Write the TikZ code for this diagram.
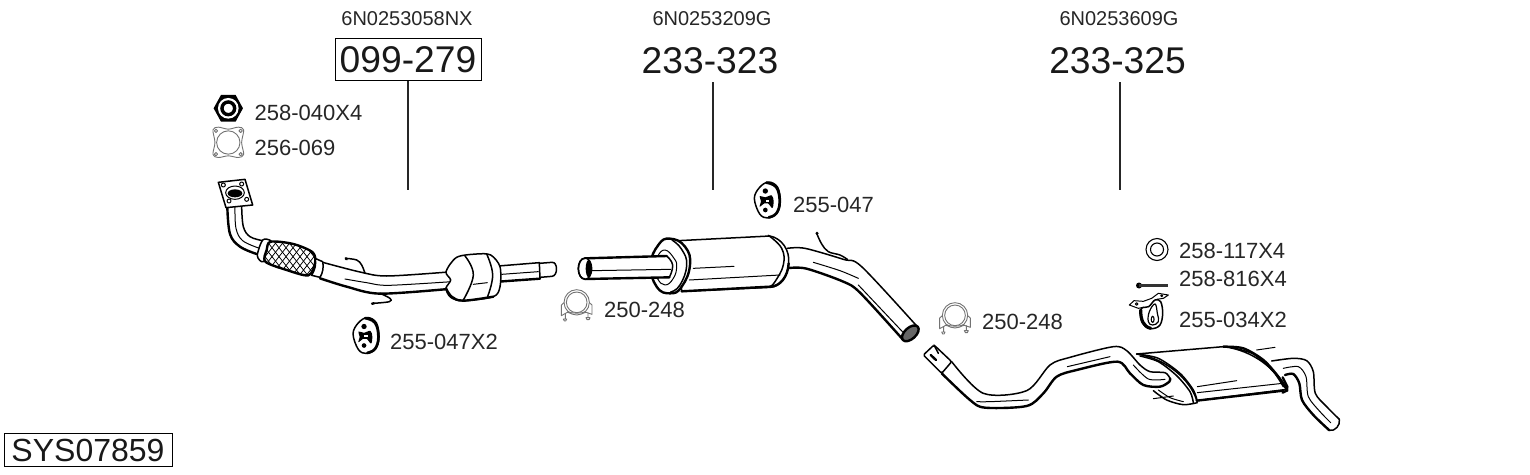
\documentclass[tikz,border=0pt]{standalone}
\usepackage{fontspec}
\setmainfont{Liberation Sans}
\tikzset{
  lbl/.style={anchor=west,inner sep=0pt,font=\fontsize{22}{24}\selectfont,text=black!85},
  oem/.style={inner sep=0pt,font=\fontsize{20}{22}\selectfont,text=black!85},
  big/.style={inner sep=0pt,font=\fontsize{37.2}{40}\selectfont,text=black!90},
  ldr/.style={draw=black!85,line width=1.2pt},
  e/.style={draw=black,line width=1.5pt,line cap=round,line join=round},
  h/.style={draw=black,line width=2.4pt,line cap=round,line join=round},
  t/.style={draw=black,line width=1pt,line cap=round,line join=round},
  g/.style={draw=black!55,line width=0.9pt,line join=round},
  zoomunits/.style={x=0.33333pt,y=-0.33333pt},
  hanger/.pic={\begin{scope}[zoomunits]
    \draw[e,fill=white] plot[smooth cycle,tension=.6] coordinates {(-38,-5) (-22,-38) (5,-54) (32,-38) (40,5) (30,40) (3,54) (-22,42)};
    \draw[line width=2.6pt,line cap=round] plot[smooth,tension=.7] coordinates {(-2,-52) (28,-38) (38,5) (28,40) (5,52)};
    \fill (-5,-27) circle (8);
    \fill (-5,30) circle (7);
    \fill plot[smooth cycle,tension=.6] coordinates {(-22,-12) (-5,-8) (14,-14) (20,4) (16,24) (3,10) (-8,10) (-22,20) (-18,4)};
    \fill[white] (-4,-1) rectangle (6,5);
  \end{scope}},
  clamp/.pic={\begin{scope}[zoomunits]
    \draw[g,fill=white] (-46,0) -- (-30,-14) -- (30,-14) -- (46,0) -- (46,28) -- (28,22) .. controls (15,28) and (-15,28) .. (-28,22) -- (-46,32) -- cycle;
    \draw[g] (-34,24) -- (-34,42) (-40,42) -- (-30,42) -- (-33,48) -- (-37,48) -- cycle;
    \draw[g] (34,22) -- (34,38) (28,38) -- (40,38) -- (37,44) -- (31,44) -- cycle;
    \draw[g,fill=white] (0,-8) circle (38);
    \draw[g] (0,-8) circle (31);
    \draw[g] (-27,20) .. controls (-15,26) and (15,26) .. (27,20);
  \end{scope}},
}
\begin{document}
\begin{tikzpicture}[x=1pt,y=-1pt]
\useasboundingbox (0,0) rectangle (1530,474);

% titles
\node[oem] (o1) at (407,19) {6N0253058NX};
\node[oem] (o2) at (712,19) {6N0253209G};
\node[oem] (o3) at (1119,19) {6N0253609G};
\node[big,draw=black,line width=1pt,minimum width=146pt,minimum height=42pt] (n1) at (408,59.5) {099-279};
\node[big] (n2) at (710,61) {233-323};
\node[big] (n3) at (1117.5,61) {233-325};
\node[draw=black,line width=1pt,inner sep=0pt,minimum width=168pt,minimum height=33pt,font=\fontsize{32}{34}\selectfont,text=black!90] (sys) at (88,450) {SYS07859};

\coordinate (a2) at (713,82); \coordinate (a3) at (1120,82);
\coordinate (b1) at (408,190); \coordinate (b2) at (713,190); \coordinate (b3) at (1120,190);
\draw[ldr] (n1.south) -- (b1);
\draw[ldr] (a2) -- (b2);
\draw[ldr] (a3) -- (b3);

% labels
\node[lbl] (l1) at (254.5,113) {258-040X4};
\node[lbl] (l2) at (254.5,148) {256-069};
\node[lbl] (l3) at (390,342) {255-047X2};
\node[lbl] (l4) at (604,310) {250-248};
\node[lbl] (l5) at (793,205) {255-047};
\node[lbl] (l6) at (982,322) {250-248};
\node[lbl] (l7) at (1179,251) {258-117X4};
\node[lbl] (l8) at (1179,279) {258-816X4};
\node[lbl] (l9) at (1179,320) {255-034X2};

% --- small parts
% nut
\begin{scope}[shift={(228.3,108.3)},zoomunits]
  \fill[black] (-44,0) -- (-22,-40) -- (22,-40) -- (44,0) -- (22,40) -- (-22,40) -- cycle;
  \fill[white] (0,0) circle (31);
  \draw[line width=3.4pt] (0,0) circle (19);
\end{scope}
% gasket
\begin{scope}[shift={(228.3,142.5)},zoomunits]
  \draw[g] plot[smooth cycle,tension=.55] coordinates {(-46,-38) (-30,-46) (0,-40) (30,-46) (46,-38) (40,0) (46,36) (30,45) (0,40) (-30,45) (-46,36) (-40,0)};
  \draw[g] (0,0) circle (35);
  \draw[g] (-37,-35) circle (5) (37,-35) circle (5) (-37,35) circle (5) (37,35) circle (5);
\end{scope}
\pic at (365.7,335.5) {hanger};
\pic at (767,200) {hanger};
\pic at (576.7,305) {clamp};
\pic at (955,318) {clamp};
% washer
\draw[line width=1.1pt] (1157,249.5) circle (11);
\draw[line width=1.1pt] (1157,249.5) circle (6.5);
% bolt
\fill (1139,285.5) circle (3);
\draw[line width=2.4pt,draw=black!80] (1139,285.5) -- (1168,285.5);
% bracket
\begin{scope}[shift={(910,230)},zoomunits]
  \draw[t,fill=white] (658,225) -- (672,212) -- (700,214) -- (725,205) -- (745,190) -- (775,195) -- (760,205) -- (740,208) -- (715,235) -- (700,232) -- (685,235) -- cycle;
  \draw[t] (680,222) circle (4) (755,197) circle (3);
  \draw[e,fill=white] plot[smooth cycle,tension=.6] coordinates {(695,235) (716,230) (735,210) (752,215) (758,250) (750,285) (725,296) (702,285) (692,262)};
  \draw[line width=3.2pt,line cap=round] (692,240) .. controls (692,270) and (700,290) .. (722,295);
  \draw[line width=1.2pt,fill=white] plot[smooth cycle,tension=.7] coordinates {(718,245) (735,222) (742,250) (745,275) (728,285) (715,275)};
  \fill (728,268) ellipse (6 and 11);
  \fill[white] (728,268) ellipse (2 and 6);
\end{scope}

% --- front pipe with catalytic converter
\begin{scope}[shift={(200,90)},zoomunits]
  % tail of converter
  \path[fill=white] (895,528) -- (1020,518) -- (1062,517) -- (1068,540) -- (1060,558) -- (1020,562) -- (895,575) -- cycle;
  \draw[h] (895,575) -- (1020,566);
  \draw[e] (895,528) -- (1018,518);
  \draw[e] (1018,518) -- (1020,566);
  \draw[e] (1018,520) -- (1056,517) .. controls (1074,515) and (1074,558) .. (1056,559) -- (1020,562);
  \draw[t] (905,553) -- (1015,545);
  % flange pipe
  \path[fill=white] (82,350) -- (90,430) -- (120,470) -- (172,495) -- (190,450) -- (150,440) -- (128,410) -- (125,350) -- cycle;
  \draw[h] plot[smooth,tension=.6] coordinates {(82,352) (90,432) (120,470) (170,492)};
  \draw[e] plot[smooth,tension=.6] coordinates {(125,350) (130,410) (150,440) (188,452)};
  \draw[t] plot[smooth,tension=.6] coordinates {(105,352) (108,415) (128,452) (176,474)};
  % flange
  \draw[e,fill=white] (55,277) -- (135,268) -- (158,345) -- (78,353) -- cycle;
  \draw[t] (70,285) circle (6) (125,282) circle (6) (87,333) circle (6) (140,328) circle (6);
  \draw[t,fill=white] (105,308) ellipse (28 and 20);
  \fill (105,310) ellipse (22 and 12);
  % flex
  \draw[e,fill=white] plot[smooth cycle,tension=.5] coordinates {(188,450) (212,452) (215,470) (190,515) (172,497)};
  \begin{scope}
    \clip plot[smooth cycle,tension=.5] coordinates {(212,455) (280,462) (338,487) (345,520) (325,556) (260,540) (196,515) (200,480)};
    \fill[white] (190,440) rectangle (350,560);
    \foreach \i in {0,...,12} {
      \draw[line width=.75pt] (140+\i*21,430) -- (250+\i*21,570);
      \draw[line width=.75pt] (140+\i*21,570) -- (250+\i*21,430);
    }
  \end{scope}
  \draw[h] plot[smooth cycle,tension=.5] coordinates {(212,455) (280,462) (338,487) (345,520) (325,556) (260,540) (196,515) (200,480)};
  % main pipe
  \path[fill=white] (368,512) -- (480,545) -- (560,558) -- (745,545) -- (745,597) -- (540,612) -- (440,590) -- (345,555) -- cycle;
  \draw[e] plot[smooth,tension=.5] coordinates {(368,517) (480,546) (560,558) (745,546)};
  \draw[h] plot[smooth,tension=.5] coordinates {(360,565) (440,590) (540,611) (745,597)};
  \draw[t] plot[smooth,tension=.5] coordinates {(435,567) (500,578) (565,586) (755,575)};
  \draw[e,fill=white] (345,505) -- (368,515) .. controls (372,530) and (368,550) .. (360,562) -- (335,556) .. controls (345,540) and (350,520) .. (345,505) -- cycle;
  % converter
  \draw[e,fill=white] plot[smooth cycle,tension=.5] coordinates {(738,545) (770,502) (830,492) (872,495) (900,530) (900,590) (880,620) (790,632) (752,622) (738,595) (752,570)};
  \draw[h] plot[smooth,tension=.6] coordinates {(738,595) (755,620) (790,632) (880,620)};
  \draw[e] plot[smooth,tension=.7] coordinates {(795,498) (820,555) (790,630)};
  \draw[e] plot[smooth,tension=.7] coordinates {(860,492) (878,555) (862,622)};
  \draw[t] (820,583) -- (862,578);
  % wires
  \draw[e] plot[smooth,tension=.6] coordinates {(437,505) (470,510) (485,525) (495,550)};
  \draw[h] (437,505) -- (440,508);
  \draw[e] plot[smooth,tension=.6] coordinates {(540,610) (570,625) (568,635) (520,640)};
  \draw[h] (516,641) -- (522,640);
\end{scope}

% --- middle silencer
\begin{scope}[shift={(550,170)},zoomunits]
  % outlet pipe
  \path[fill=white] (712,233) -- (770,235) -- (930,285) -- (1102,470) -- (1058,508) -- (930,368) -- (880,335) -- (770,295) -- (712,297) -- cycle;
  \draw[e] plot[smooth,tension=.5] coordinates {(712,235) (765,235) (880,268) (935,290) (1102,470)};
  \draw[h] plot[smooth,tension=.5] coordinates {(718,294) (770,296) (880,335) (930,368) (1058,508)};
  \draw[t] plot[smooth,tension=.5] coordinates {(790,277) (870,302) (925,325)};
  \draw[t] (925,345) -- (1062,490);
  \draw[h,fill=black!60] (1081,490) ellipse [x radius=30,y radius=17,rotate=42];
  % wire
  \draw[e] plot[smooth,tension=.6] coordinates {(800,190) (815,222) (835,245) (870,255) (892,268)};
  \fill (801,190) circle (5);
  % body
  \draw[e,fill=white] (385,212) -- (660,198) .. controls (695,205) and (720,240) .. (716,280) .. controls (714,320) and (690,350) .. (662,352) -- (395,364) -- cycle;
  \draw[h] (395,364) -- (660,350) .. controls (690,350) and (714,320) .. (716,280);
  \draw[e] plot[smooth,tension=.7] coordinates {(655,196) (695,235) (700,285) (675,335) (660,350)};
  \draw[t] (418,330) -- (690,315);
  \draw[t] (430,295) -- (552,289);
  % front
  \draw[h,fill=white] plot[smooth cycle,tension=.8] coordinates {(360,206) (405,230) (420,285) (395,350) (360,370) (320,350) (302,285) (325,225)};
  \draw[e] plot[smooth,tension=.8] coordinates {(366,210) (395,238) (410,285) (390,345) (362,366)};
  \draw[t,fill=white] plot[smooth cycle,tension=.8] coordinates {(345,240) (372,265) (380,290) (370,325) (345,345) (322,325) (312,290) (322,260)};
  % inlet pipe
  \path[fill=white] (105,265) -- (350,258) -- (372,290) -- (358,323) -- (105,327) -- cycle;
  \draw[h] (105,265) -- (350,258);
  \draw[h] (105,327) -- (358,322);
  \draw[e] plot[smooth,tension=.8] coordinates {(350,258) (368,285) (358,322)};
  \draw[t] (125,302) -- (362,298);
  \draw[e,fill=white] (105,296) ellipse (20 and 32);
  \fill (116,296) ellipse (9 and 26);
  \draw[e] (85,296) .. controls (85,280) and (92,265) .. (105,265);
  \draw[e] (85,296) .. controls (85,312) and (92,327) .. (105,327);
\end{scope}

% --- rear silencer
\begin{scope}[shift={(910,230)},zoomunits]
  % tail pipe
  \path[fill=white] (1085,395) -- (1170,385) -- (1205,410) -- (1215,490) -- (1288,568) -- (1260,602) -- (1195,540) -- (1170,490) -- (1160,445) -- (1130,432) -- cycle;
  \draw[e] plot[smooth,tension=.5] coordinates {(1085,393) (1150,385) (1190,392) (1210,425) (1216,490) (1250,530) (1288,568)};
  \draw[h] plot[smooth,tension=.5] coordinates {(1125,435) (1150,432) (1168,460) (1176,510) (1210,555) (1258,601)};
  \draw[t] plot[smooth,tension=.5] coordinates {(1120,415) (1165,410) (1188,440) (1195,500) (1230,545) (1262,578)};
  \draw[e] (1288,568) .. controls (1292,585) and (1275,605) .. (1258,601);
  % body
  \draw[t] (1040,360) -- (1095,352);
  \draw[t] (730,506) -- (790,498);
  \draw[e,fill=white] (680,372) -- (940,350) .. controls (1030,360) and (1100,420) .. (1132,478) -- (860,512) .. controls (850,470) and (790,390) .. (680,372);
  \draw[h] (860,512) -- (1120,482);
  \draw[t] (862,470) -- (980,452);
  \draw[t] (862,488) -- (1118,460);
  \draw[h] plot[smooth,tension=.5] coordinates {(940,350) (1000,355) (1060,390) (1105,440) (1132,482)};
  \draw[e] plot[smooth,tension=.5] coordinates {(960,352) (1030,372) (1090,425) (1120,470)};
  \draw[h] (1118,442) -- (1132,470) -- (1130,482) -- (1118,488);
  % front band
  \draw[e] plot[smooth,tension=.5] coordinates {(680,372) (745,385) (810,430) (850,480) (862,515)};
  \draw[e] plot[smooth,tension=.5] coordinates {(690,378) (745,395) (800,437) (840,485) (850,518)};
  \draw[e] plot[smooth,tension=.5] coordinates {(730,482) (770,510) (820,524) (862,518)};
  \draw[t] plot[smooth,tension=.5] coordinates {(745,480) (780,503) (820,515)};
  % pipe
  \path[fill=white] (125,395) -- (220,490) -- (350,482) -- (420,405) -- (480,380) -- (610,350) -- (650,362) -- (720,428) -- (778,440) -- (778,458) -- (750,472) -- (700,465) -- (625,395) -- (500,420) -- (440,440) -- (400,492) -- (350,530) -- (225,535) -- (180,510) -- (95,430) -- cycle;
  \draw[e] plot[smooth,tension=.5] coordinates {(125,395) (220,490) (350,482) (420,405) (480,382) (610,350) (650,362) (690,405) (720,425) (765,428) (780,445)};
  \draw[h] plot[smooth,tension=.5] coordinates {(95,430) (180,510) (225,533) (350,528) (400,490) (440,440) (500,420) (622,395) (660,430) (700,465) (750,470) (778,455) (780,445)};
  \draw[t] plot[smooth,tension=.5] coordinates {(200,515) (240,515) (355,510)};
  \draw[t] (472,410) -- (600,380);
  \draw[t] plot[smooth,tension=.5] coordinates {(670,405) (715,447) (765,448)};
  % inlet sleeve
  \draw[e,fill=white,rounded corners=1.5pt] (40,375) -- (72,345) -- (125,395) -- (95,430) -- cycle;
  \draw[h] (62,375) -- (78,390);
  \draw[e] (72,345) -- (85,370);
\end{scope}
\end{tikzpicture}
\end{document}
